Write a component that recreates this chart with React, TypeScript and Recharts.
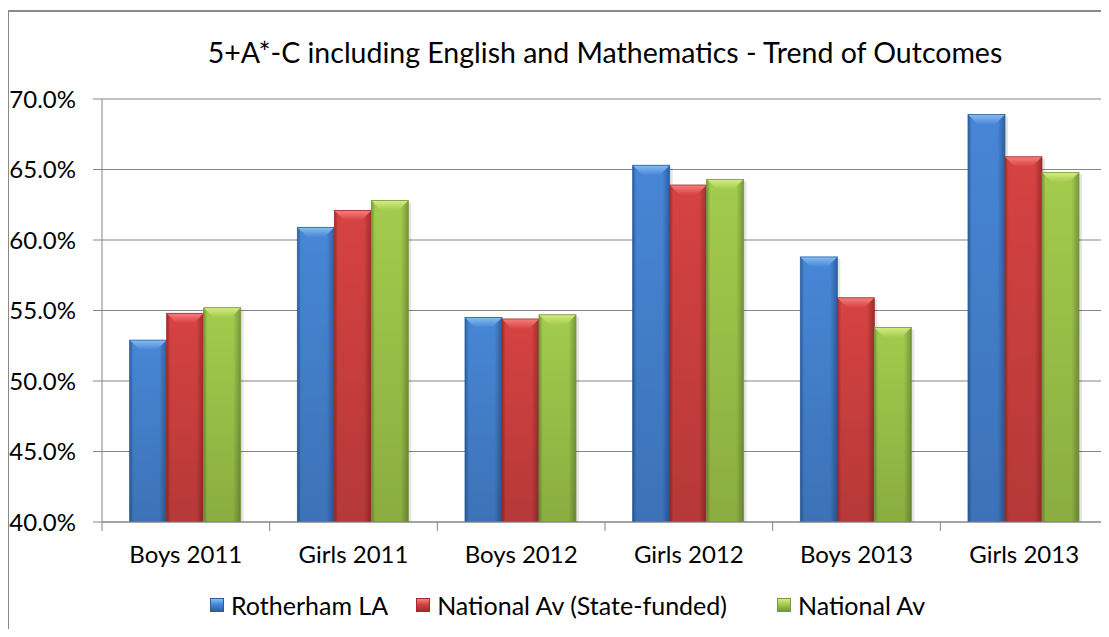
import React from 'react';
import { BarChart, Bar, XAxis, YAxis, CartesianGrid, Legend } from 'recharts';

// 5+A*-C incl. English & Maths, three comparators per cohort.
const CATEGORIES = ['Boys 2011', 'Girls 2011', 'Boys 2012', 'Girls 2012', 'Boys 2013', 'Girls 2013'];
const ROTHERHAM_LA = [52.9, 60.9, 54.5, 65.3, 58.8, 68.9];
const NATIONAL_STATE = [54.8, 62.1, 54.4, 63.9, 55.9, 65.9];
const NATIONAL_AV = [55.2, 62.8, 54.7, 64.3, 53.8, 64.8];
const SERIES_NAMES = ['Rotherham LA', 'National Av (State-funded)', 'National Av'];
const Y_TICKS = [40, 45, 50, 55, 60, 65, 70];

const W = 1109;
const H = 637;
const Y_AXIS_W = 102;
const MARGIN = { top: 99, right: 1, left: 0, bottom: 0 };
const PLOT_W = W - Y_AXIS_W - MARGIN.left - MARGIN.right;
const FONT = 'Lato, "Open Sans", sans-serif';
const AXIS_GRAY = '#868686';

// Excel-2007 style bevelled fills: body / edge / top facet.
const TONES = [
  { body: '#4786D6', edge: '#2C5F9F', top: '#86BDF4', key: 'b' },
  { body: '#D64242', edge: '#9E2C2C', top: '#F58080', key: 'r' },
  { body: '#A3CB4C', edge: '#76983A', top: '#D4EC84', key: 'g' },
];

const data = CATEGORIES.map((cat, i) => ({
  cat,
  s0: ROTHERHAM_LA[i],
  s1: NATIONAL_STATE[i],
  s2: NATIONAL_AV[i],
}));

function BevelBar(props: any) {
  const { x, y, width, height, tone } = props;
  if (!height || height <= 0) return null;
  const t = TONES[tone];
  const bev = Math.min(10, height / 2, width / 3);
  const topPts = `${x},${y} ${x + width},${y} ${x + width - bev},${y + bev} ${x + bev},${y + bev}`;
  return (
    <g>
      <rect x={x + 3} y={y + 2} width={width} height={height - 2} fill="rgba(0,0,0,0.10)" />
      <rect x={x} y={y} width={width} height={height} fill={`url(#body-${t.key})`} />
      <rect x={x} y={y} width={width} height={height} fill="url(#shade-v)" />
      <polygon points={topPts} fill={`url(#top-${t.key})`} />
      <rect x={x} y={y} width={width} height={height} fill="none" stroke={t.edge} strokeWidth={0.8} />
    </g>
  );
}

function CategoryTick(props: any) {
  const { x, y, payload, index } = props;
  const half = PLOT_W / CATEGORIES.length / 2;
  const last = index === CATEGORIES.length - 1;
  return (
    <g>
      <line x1={x - half} x2={x - half} y1={y} y2={y + 9} stroke={AXIS_GRAY} />
      {last && <line x1={x + half} x2={x + half} y1={y} y2={y + 9} stroke={AXIS_GRAY} />}
      <text x={x} y={y + 31} textAnchor="middle" dominantBaseline="central" fontSize={24} fontFamily={FONT} fill="#000">
        {payload.value}
      </text>
    </g>
  );
}

function LegendRow() {
  const gaps = [0, 28, 50];
  return (
    <div style={{ display: 'flex', alignItems: 'center', height: 65, paddingLeft: 210, fontFamily: FONT, fontSize: 25, color: '#000' }}>
      {SERIES_NAMES.map((name, i) => {
        const t = TONES[i];
        return (
          <div key={name} style={{ display: 'flex', alignItems: 'center', marginLeft: gaps[i] }}>
            <span
              style={{
                width: 14,
                height: 14,
                marginRight: 7,
                background: `linear-gradient(to bottom, ${t.top} 0%, ${t.body} 45%, ${t.edge} 100%)`,
                border: `1px solid ${t.edge}`,
                boxSizing: 'border-box',
              }}
            />
            <span>{name}</span>
          </div>
        );
      })}
    </div>
  );
}

export default function App() {
  return (
    <div style={{ position: 'relative', width: W, height: H, margin: -8, overflow: 'hidden', background: '#fff' }}>
      <div
        style={{
          position: 'absolute',
          left: 7,
          top: 10,
          width: W + 20,
          height: H + 20,
          borderLeft: '2px solid #8a8a8a',
          borderTop: '2px solid #8a8a8a',
        }}
      />
      <div
        style={{
          position: 'absolute',
          top: 35,
          left: Y_AXIS_W,
          width: PLOT_W,
          textAlign: 'center',
          fontFamily: FONT,
          fontSize: 28.5,
          color: '#000',
        }}
      >
        5+A*-C including English and Mathematics - Trend of Outcomes
      </div>
      <div style={{ position: 'absolute', left: 0, top: 0 }}>
        <BarChart width={W} height={H} data={data} margin={MARGIN} barGap={0} barCategoryGap="16.5%">
          <defs>
            {TONES.map((t) => (
              <linearGradient key={`body-${t.key}`} id={`body-${t.key}`} x1="0" y1="0" x2="1" y2="0">
                <stop offset="0%" stopColor={t.edge} />
                <stop offset="10%" stopColor={t.body} />
                <stop offset="80%" stopColor={t.body} />
                <stop offset="100%" stopColor={t.edge} />
              </linearGradient>
            ))}
            {TONES.map((t) => (
              <linearGradient key={`top-${t.key}`} id={`top-${t.key}`} x1="0" y1="0" x2="0" y2="1">
                <stop offset="0%" stopColor={t.top} />
                <stop offset="100%" stopColor={t.body} />
              </linearGradient>
            ))}
            <linearGradient id="shade-v" x1="0" y1="0" x2="0" y2="1">
              <stop offset="0%" stopColor="#000" stopOpacity={0} />
              <stop offset="100%" stopColor="#000" stopOpacity={0.15} />
            </linearGradient>
          </defs>
          <CartesianGrid vertical={false} stroke={AXIS_GRAY} strokeWidth={1.2} />
          <XAxis
            dataKey="cat"
            height={50}
            stroke={AXIS_GRAY}
            tickLine={false}
            tickSize={0}
            tickMargin={0}
            tick={<CategoryTick />}
            interval={0}
          />
          <YAxis
            width={Y_AXIS_W}
            domain={[40, 70]}
            ticks={Y_TICKS}
            allowDataOverflow
            stroke={AXIS_GRAY}
            tickSize={9}
            tickMargin={17}
            tickFormatter={(v: number) => `${v.toFixed(1)}%`}
            tick={{ fontSize: 24, fontFamily: FONT, fill: '#000' }}
          />
          <Legend verticalAlign="bottom" height={65} content={<LegendRow />} />
          {TONES.map((t, i) => (
            <Bar
              key={t.key}
              dataKey={`s${i}`}
              name={SERIES_NAMES[i]}
              fill={t.body}
              isAnimationActive={false}
              shape={(p: any) => <BevelBar {...p} tone={i} />}
            />
          ))}
        </BarChart>
      </div>
    </div>
  );
}
